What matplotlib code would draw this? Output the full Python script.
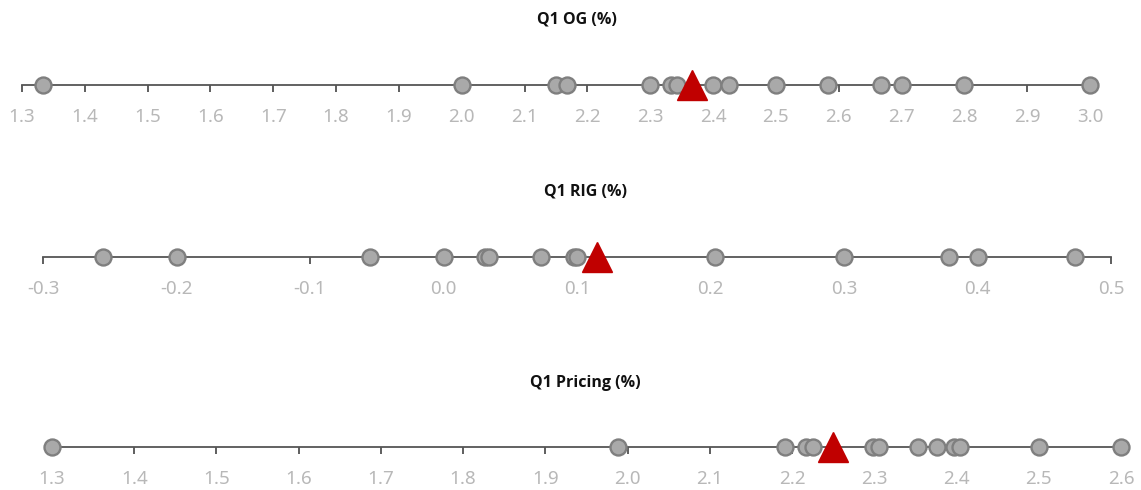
import numpy as np
from matplotlib import pyplot as plt

plt.rcParams['font.family'] = ['Noto Sans', 'DejaVu Sans']

# 数据
og_values = [1.333, 2.0, 2.15, 2.167, 2.3, 2.333, 2.342, 2.4, 2.425, 2.5, 2.583, 2.667, 2.7, 2.8, 3.0]
og_avg = 2.367
og_ticks = [1.3, 1.4, 1.5, 1.6, 1.7, 1.8, 1.9, 2.0, 2.1, 2.2, 2.3, 2.4, 2.5, 2.6, 2.7, 2.8, 2.9, 3.0]

rig_values = [-0.255, -0.2, -0.055, 0.0, 0.031, 0.034, 0.073, 0.098, 0.1, 0.203, 0.3, 0.379, 0.4, 0.473]
rig_avg = 0.115
rig_ticks = [-0.3, -0.2, -0.1, 0.0, 0.1, 0.2, 0.3, 0.4, 0.5]

pricing_values = [1.3, 1.988, 2.192, 2.217, 2.225, 2.298, 2.306, 2.353, 2.376, 2.397, 2.404, 2.5, 2.6]
pricing_avg = 2.25
pricing_ticks = [1.3, 1.4, 1.5, 1.6, 1.7, 1.8, 1.9, 2.0, 2.1, 2.2, 2.3, 2.4, 2.5, 2.6]

titles = ['Q1 OG (%)', 'Q1 RIG (%)', 'Q1 Pricing (%)']

W, H = 1141, 490
fig = plt.figure(figsize=(W / 100, H / 100), dpi=100)

# 每一行: 数据, 均值, 刻度, 轴左右像素, 轴线y像素, 标题x像素, 标题y像素
rows = [
    (og_values, og_avg, og_ticks, 22, 1090, 85, 577, 19),
    (rig_values, rig_avg, rig_ticks, 43, 1111, 257, 585, 191),
    (pricing_values, pricing_avg, pricing_ticks, 52, 1121, 447, 585, 383),
]

for (vals, avg, ticks, x0, x1, yl, tx, ty), title in zip(rows, titles):
    ax = fig.add_axes([x0 / W, 1 - (yl + 20) / H, (x1 - x0) / W, 40 / H])
    ax.set_xlim(ticks[0], ticks[-1])
    ax.set_ylim(-1, 1)
    for s in ['top', 'left', 'right']:
        ax.spines[s].set_visible(False)
    ax.spines['bottom'].set_position(('data', 0))
    ax.spines['bottom'].set_color('#555555')
    ax.spines['bottom'].set_linewidth(1.3)
    ax.set_yticks([])
    ax.set_xticks(ticks)
    ax.set_xticklabels(['%.1f' % t for t in ticks])
    ax.tick_params(axis='x', direction='out', length=5, width=1.1, color='#333333',
                   labelcolor='#b8b8b8', labelsize=13.5, pad=11.5)
    ax.patch.set_alpha(0)
    ax.plot(vals, np.zeros(len(vals)), 'o', ms=11.5, mfc='#a9a9a9', mec='#7f7f7f',
            mew=1.7, clip_on=False, zorder=3)
    ax.plot([avg], [0], '^', ms=21.5, color='#c00000', clip_on=False, zorder=4)
    fig.text(tx / W, 1 - ty / H, title, ha='center', va='center',
             fontsize=11.5, fontweight='bold', color='#111111',
             family=['Open Sans', 'Liberation Sans', 'DejaVu Sans'])

plt.savefig('out.png', dpi=100)
